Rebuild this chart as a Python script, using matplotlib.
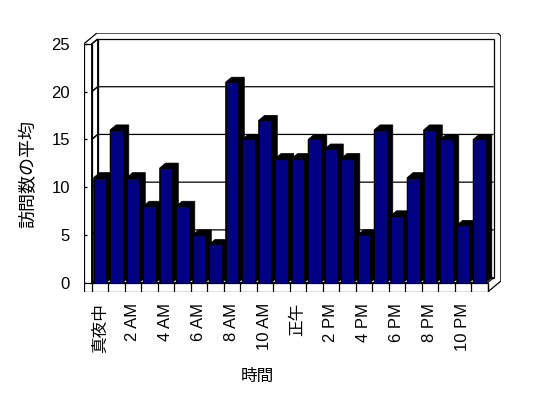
import numpy as np
import matplotlib
matplotlib.use('Agg')
import matplotlib.pyplot as plt
from matplotlib.patches import Polygon, Rectangle

plt.rcParams['font.family'] = ['Liberation Sans', 'Noto Sans CJK JP']

# ─────────────────────────────────────────────
# DATA (average visits per hour)
# ─────────────────────────────────────────────
hours = list(range(24))
visits = [11, 16, 11, 8, 12, 8, 5, 4, 21, 15, 17, 13,
          13, 15, 14, 13, 5, 16, 7, 11, 16, 15, 6, 15]
tick_pos = list(range(0, 24, 2))
tick_labels = ['真夜中', '2 AM', '4 AM', '6 AM', '8 AM', '10 AM',
               '正午', '2 PM', '4 PM', '6 PM', '8 PM', '10 PM']
y_ticks = [0, 5, 10, 15, 20, 25]
y_max = 25

# ─────────────────────────────────────────────
# 3D BOX GEOMETRY (in data units)
# ─────────────────────────────────────────────
px_x = 16.5      # pixels per category
px_y = 9.544     # pixels per value unit
DX, DY = 6 / px_x, 5 / px_y          # depth of bars / walls
SX, SY = 0.8, 1.15                   # outer slab offset
L, R = -0.5, len(hours) - 0.5
X0 = L - 8 / px_x                    # left slab outer edge
Y0 = -9.4 / px_y                     # floor bottom

W, H = 548, 398
fig = plt.figure(figsize=(W / 100, H / 100), dpi=100)
ax_w = (R + SX - X0) * px_x
ax_h = (y_max + SY - Y0) * px_y
ax = fig.add_axes([83.7 / W, (H - 292) / H, ax_w / W, ax_h / H])
ax.set_xlim(X0, R + SX)
ax.set_ylim(Y0, y_max + SY)
for s in ax.spines.values():
    s.set_visible(False)

lw = 0.9
kw = dict(color='black', lw=lw, solid_capstyle='butt')

# back wall
ax.add_patch(Rectangle((L + DX, DY), R - L, y_max, facecolor='white',
                       edgecolor='black', lw=lw, zorder=1))
for v in y_ticks[1:-1]:
    ax.plot([L, L + DX, R + DX], [v, v + DY, v + DY], zorder=1.5, **kw)

# left wall and floor top
ax.add_patch(Polygon([(L, 0), (L, y_max), (L + DX, y_max + DY), (L + DX, DY)],
                     facecolor='white', edgecolor='black', lw=lw, zorder=1.2))
ax.add_patch(Polygon([(L, 0), (R, 0), (R + DX, DY), (L + DX, DY)],
                     facecolor='white', edgecolor='black', lw=lw, zorder=1.2))
for v in y_ticks[1:-1]:
    ax.plot([L, L + DX], [v, v + DY], zorder=1.6, **kw)

# outer slab edges
ax.plot([X0, X0 + SX, R + SX - 0.2, R + SX, R + SX, R],
        [y_max, y_max + SY, y_max + SY, y_max + SY - 0.3, Y0 + SY, Y0],
        zorder=2, **kw)
ax.plot([L, L + DX], [y_max, y_max + DY], zorder=2, **kw)
ax.plot([X0, L], [y_max, y_max], zorder=2, **kw)
ax.plot([X0, X0], [Y0, y_max], zorder=2, **kw)
ax.plot([L, L], [0, y_max], zorder=2, **kw)

# floor front face with category boundaries
ax.add_patch(Rectangle((X0, Y0), R - X0, -Y0, facecolor='white',
                       edgecolor='black', lw=lw, zorder=2))
for b in np.arange(L, R + 0.5, 1.0):
    ax.plot([b, b], [Y0, 0], zorder=2.1, **kw)

# bars: black extrusion + navy front face
bw = 0.77
for x, h in zip(hours, visits):
    x0, x1 = x - bw / 2, x + bw / 2
    ax.add_patch(Polygon([(x0, 0), (x0, h), (x0 + DX, h + DY), (x1 + DX, h + DY),
                          (x1 + DX, DY), (x1, 0)],
                         facecolor='black', edgecolor='black', lw=0.5, zorder=4))
ax.bar(hours, visits, width=bw, color='#000080', edgecolor='black',
       linewidth=0.6, zorder=5)

# ticks and labels
ax.set_yticks(y_ticks)
ax.set_yticklabels([str(v) for v in y_ticks], fontsize=12)
ax.tick_params(axis='y', direction='in', length=2.5, width=lw, pad=10)
ax.set_xticks(tick_pos)
ax.set_xticklabels(tick_labels, rotation=90, fontsize=12, va='top')
ax.tick_params(axis='x', length=0, pad=8)

ax.set_xlabel('時間', fontsize=12)
ax.xaxis.set_label_coords(0.416, -0.297)
ax.set_ylabel('訪問数の平均', fontsize=13)
ax.yaxis.set_label_coords(-0.11, 0.456)

fig.savefig('out.png', dpi=100)
